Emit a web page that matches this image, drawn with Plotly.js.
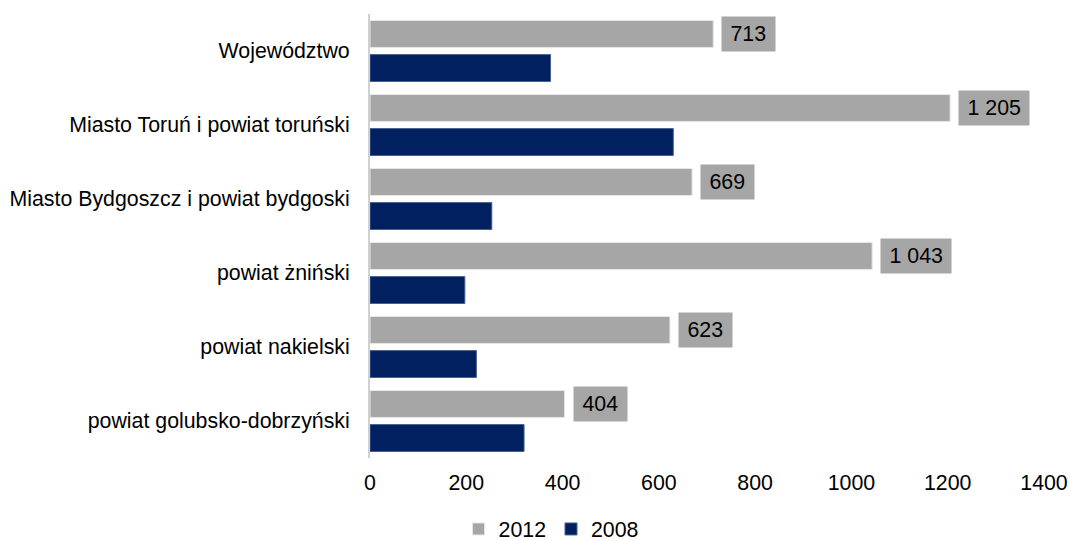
<!DOCTYPE html>
<html>
<head>
<meta charset="utf-8">
<script src="https://cdn.plot.ly/plotly-3.0.1.min.js"></script>
<style>html,body{margin:0;padding:0;background:#fff;}#chart{width:1070px;height:541px;}</style>
</head>
<body>
<div id="chart"></div>
<script>
var categories = ['Województwo', 'Miasto Toruń i powiat toruński', 'Miasto Bydgoszcz i powiat bydgoski', 'powiat żniński', 'powiat nakielski', 'powiat golubsko-dobrzyński'];
var values2012 = [713, 1205, 669, 1043, 623, 404];
var values2008 = [375, 630, 253, 197, 221, 320];
var seriesNames = ['2012', '2008'];
var xTicks = [0, 200, 400, 600, 800, 1000, 1200, 1400];

function fmt(v) {
  return String(v).replace(/\B(?=(\d{3})+(?!\d))/g, ' ');
}

var FONT = 'Liberation Sans, Arial, sans-serif';
var FS = 21.33;

var traces = [
  {
    type: 'bar', orientation: 'h', name: seriesNames[0],
    y: categories, x: values2012,
    marker: {color: '#a6a6a6', line: {color: '#e6e6e6', width: 1}},
    hoverinfo: 'x+y'
  },
  {
    type: 'bar', orientation: 'h', name: seriesNames[1],
    y: categories, x: values2008,
    marker: {color: '#002060', line: {color: '#4a5f8f', width: 1}},
    hoverinfo: 'x+y'
  }
];

var annotations = values2012.map(function (v, i) {
  var t = fmt(v);
  var digits = t.replace(/ /g, '').length;
  var spaces = t.length - digits;
  return {
    x: v, y: categories[i], xref: 'x', yref: 'y',
    text: t, showarrow: false,
    xanchor: 'left', yanchor: 'middle',
    xshift: 8, yshift: 17,
    bgcolor: '#a6a6a6', borderpad: 5,
    width: digits * 11.86 + spaces * 5.93 + 7, height: 24,
    font: {family: FONT, size: FS, color: '#000'}
  };
});

var layout = {
  width: 1070, height: 541,
  margin: {l: 370, r: 26, t: 14, b: 83, pad: 0},
  paper_bgcolor: '#fff', plot_bgcolor: '#fff',
  font: {family: FONT, size: FS, color: '#000'},
  barmode: 'group', bargap: 0.08, bargroupgap: 0.21,
  showlegend: true,
  legend: {
    orientation: 'h', xref: 'container', yref: 'container',
    x: 0.515, xanchor: 'center', y: 0.022, yanchor: 'middle',
    font: {family: FONT, size: FS, color: '#000'},
    itemwidth: 30, tracegroupgap: 0, traceorder: 'normal'
  },
  xaxis: {
    range: [0, 1400], tickvals: xTicks, ticktext: xTicks.map(String),
    showgrid: false, zeroline: false, showline: false, ticks: '',
    tickfont: {family: FONT, size: FS, color: '#000'},
    ticklabelstandoff: 10, fixedrange: true
  },
  yaxis: {
    type: 'category', autorange: 'reversed',
    showgrid: false, zeroline: false, showline: true,
    linecolor: '#d0d0d0', linewidth: 2, ticks: '',
    tickfont: {family: FONT, size: FS, color: '#000'},
    ticklabelstandoff: 14, fixedrange: true
  },
  annotations: annotations
};

Plotly.newPlot('chart', traces, layout, {displayModeBar: false, staticPlot: true});
</script>
</body>
</html>
